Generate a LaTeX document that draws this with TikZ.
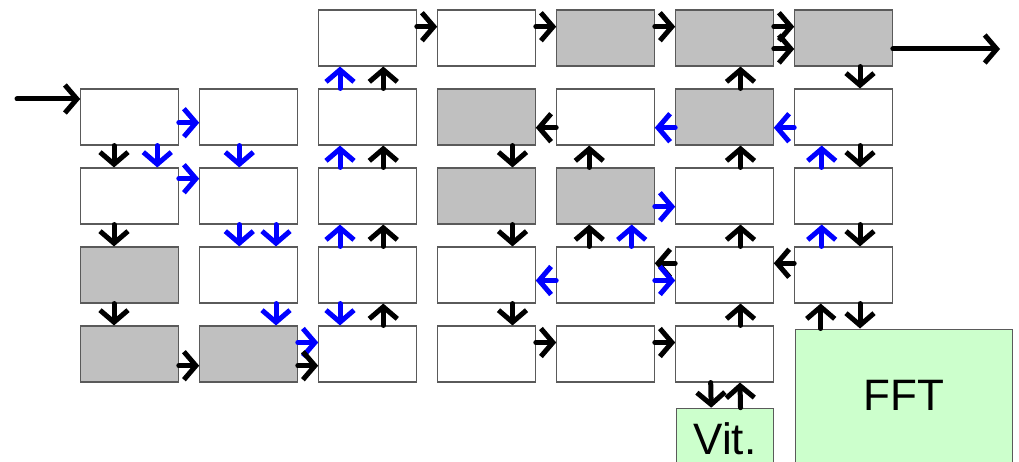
\documentclass[tikz,border=0pt]{standalone}
\usepackage{fontspec}
\setmainfont{Liberation Sans}
\usetikzlibrary{arrows.meta}
\definecolor{cellgray}{HTML}{C0C0C0}
\definecolor{edgegray}{HTML}{5A5A5A}
\definecolor{unitgreen}{HTML}{CCFFCC}
\definecolor{linkblue}{HTML}{0000FF}

% links between neighbouring cells: style, from, to, offset
\newcommand\linkR[4]{\draw[#1] ([yshift=#4pt]#2.east) -- ([yshift=#4pt]#3.west);}
\newcommand\linkL[4]{\draw[#1] ([yshift=#4pt]#2.west) -- ([yshift=#4pt]#3.east);}
\newcommand\linkD[4]{\draw[#1] ([xshift=#4pt]#2.south) -- ([xshift=#4pt]#3.north);}
\newcommand\linkU[4]{\draw[#1] ([xshift=#4pt]#2.north) -- ([xshift=#4pt]#3.south);}

\begin{document}
\begin{tikzpicture}[x=1pt,y=-1pt,
  cell/.style={draw=edgegray,line width=1.1pt,fill=white,minimum width=97.5pt,minimum height=56pt,inner sep=0pt},
  busy/.style={cell,fill=cellgray},
  unit/.style={draw=edgegray,line width=1.1pt,fill=unitgreen,inner sep=0pt,anchor=north west},
  bigtext/.style={font=\fontsize{44}{50}\selectfont},
  link/.style={line width=5pt,line cap=round,-{Straight Barb[length=12pt,width=28pt]}},
  ar/.style={link,black},
  ab/.style={link,linkblue}]
\useasboundingbox (0,0) rectangle (1019,462);
\clip (0,0) rectangle (1019,462);

% top row
\node[cell] (b03) at (367.5,38) {};
\node[cell] (b04) at (486.5,38) {};
\node[busy] (b05) at (605.5,38) {};
\node[busy] (b06) at (724.5,38) {};
\node[busy] (b07) at (843.5,38) {};
% row 1
\node[cell] (b11) at (129.5,117) {};
\node[cell] (b12) at (248.5,117) {};
\node[cell] (b13) at (367.5,117) {};
\node[busy] (b14) at (486.5,117) {};
\node[cell] (b15) at (605.5,117) {};
\node[busy] (b16) at (724.5,117) {};
\node[cell] (b17) at (843.5,117) {};
% row 2
\node[cell] (b21) at (129.5,196) {};
\node[cell] (b22) at (248.5,196) {};
\node[cell] (b23) at (367.5,196) {};
\node[busy] (b24) at (486.5,196) {};
\node[busy] (b25) at (605.5,196) {};
\node[cell] (b26) at (724.5,196) {};
\node[cell] (b27) at (843.5,196) {};
% row 3
\node[busy] (b31) at (129.5,275) {};
\node[cell] (b32) at (248.5,275) {};
\node[cell] (b33) at (367.5,275) {};
\node[cell] (b34) at (486.5,275) {};
\node[cell] (b35) at (605.5,275) {};
\node[cell] (b36) at (724.5,275) {};
\node[cell] (b37) at (843.5,275) {};
% row 4
\node[busy] (b41) at (129.5,354) {};
\node[busy] (b42) at (248.5,354) {};
\node[cell] (b43) at (367.5,354) {};
\node[cell] (b44) at (486.5,354) {};
\node[cell] (b45) at (605.5,354) {};
\node[cell] (b46) at (724.5,354) {};

% accelerators
\node[unit,minimum width=217pt,minimum height=160pt,
      label={[bigtext,yshift=13.5pt]center:FFT}] (fft) at (794.7,328.5) {};
\node[unit,minimum width=97.5pt,minimum height=80pt,
      label={[bigtext,yshift=9.4pt]center:Vit.}] (vit) at (675.7,407.7) {};

% input and output
\coordinate (src) at (17,99);
\coordinate (sink) at (1000,49);
\draw[ar] (src) -- ([yshift=18pt]b11.west);
\draw[ar] ([yshift=-11pt]b07.east) -- (sink);

% horizontal links
\linkR{ar}{b03}{b04}{11.3}
\linkR{ar}{b04}{b05}{11.3}
\linkR{ar}{b05}{b06}{11.3}
\linkR{ar}{b06}{b07}{11.3}
\linkR{ar}{b06}{b07}{-11}

\linkR{ab}{b11}{b12}{-5.7}
\linkL{ar}{b15}{b14}{-10.7}
\linkL{ab}{b16}{b15}{-10.7}
\linkL{ab}{b17}{b16}{-10.7}

\linkR{ab}{b21}{b22}{17.3}
\linkR{ab}{b25}{b26}{-10.7}

\linkL{ab}{b35}{b34}{-5.5}
\linkL{ar}{b36}{b35}{11.7}
\linkR{ab}{b35}{b36}{-5.5}
\linkL{ar}{b37}{b36}{11.7}

\linkR{ar}{b41}{b42}{-11.7}
\linkR{ab}{b42}{b43}{11.5}
\linkR{ar}{b42}{b43}{-11.7}
\linkR{ar}{b44}{b45}{11.5}
\linkR{ar}{b45}{b46}{11.5}

% vertical links, top row to row 1
\linkU{ab}{b13}{b03}{-27.5}
\linkU{ar}{b13}{b03}{15.8}
\linkU{ar}{b16}{b06}{16}
\linkD{ar}{b07}{b17}{16.5}

% row 1 to row 2
\linkD{ar}{b11}{b21}{-15.5}
\linkD{ab}{b11}{b21}{27.8}
\linkD{ab}{b12}{b22}{-9.2}
\linkU{ab}{b23}{b13}{-27.5}
\linkU{ar}{b23}{b13}{15.8}
\linkD{ar}{b14}{b24}{26}
\linkU{ar}{b25}{b15}{-16.2}
\linkU{ar}{b26}{b16}{16}
\linkU{ab}{b27}{b17}{-21.8}
\linkD{ar}{b17}{b27}{16.5}

% row 2 to row 3
\linkD{ar}{b21}{b31}{-15.5}
\linkD{ab}{b22}{b32}{-9.2}
\linkD{ab}{b22}{b32}{27.5}
\linkU{ab}{b33}{b23}{-27.5}
\linkU{ar}{b33}{b23}{15.8}
\linkD{ar}{b24}{b34}{26}
\linkU{ar}{b35}{b25}{-16.2}
\linkU{ab}{b35}{b25}{26.2}
\linkU{ar}{b36}{b26}{16}
\linkU{ab}{b37}{b27}{-21.8}
\linkD{ar}{b27}{b37}{16.5}

% row 3 to row 4
\linkD{ar}{b31}{b41}{-15.5}
\linkD{ab}{b32}{b42}{27.5}
\linkD{ab}{b33}{b43}{-27.5}
\linkU{ar}{b43}{b33}{15.8}
\linkD{ar}{b34}{b44}{26}
\linkU{ar}{b46}{b36}{16}

% links to the accelerators
\draw[ar] ([xshift=-22.8pt]b37.south |- fft.north) -- ([xshift=-22.8pt]b37.south);
\draw[ar] ([xshift=16.5pt]b37.south) -- ([xshift=16.5pt]b37.south |- fft.north);
\linkD{ar}{b46}{vit}{-13.8}
\linkU{ar}{vit}{b46}{15.5}
\end{tikzpicture}
\end{document}
